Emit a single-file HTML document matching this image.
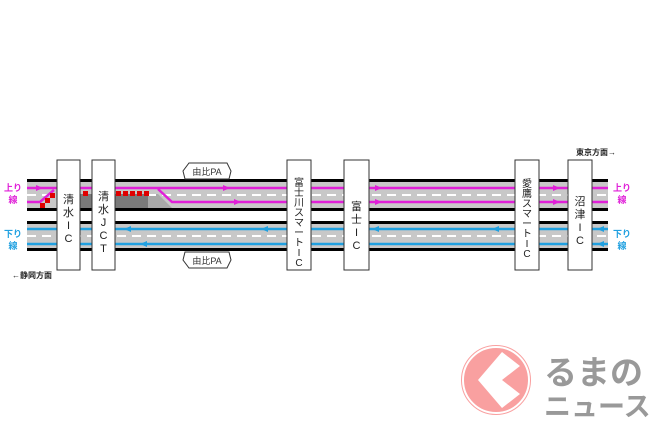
<!DOCTYPE html>
<html><head><meta charset="utf-8"><style>
html,body{margin:0;padding:0;background:#fff;width:650px;height:433px;overflow:hidden}
svg{display:block}
text{font-family:"Liberation Sans","Noto Sans CJK JP",sans-serif}
</style></head><body>
<svg width="650" height="433" viewBox="0 0 650 433">
<rect x="27" y="179" width="581" height="32" fill="#000"/>
<rect x="27" y="182" width="581" height="26" fill="#c8c8c8"/>
<rect x="57" y="194" width="91" height="14" fill="#7a7a7a"/>
<polygon points="148,194 158,194 172,208 148,208" fill="#a8a8a8"/>
<line x1="27" y1="195" x2="608" y2="195" stroke="#fff" stroke-width="2" stroke-dasharray="9,6"/>
<rect x="57" y="194" width="91" height="3" fill="#7a7a7a"/>
<rect x="27" y="221" width="581" height="30" fill="#000"/>
<rect x="27" y="224" width="581" height="24" fill="#c8c8c8"/>
<line x1="27" y1="236" x2="608" y2="236" stroke="#fff" stroke-width="2" stroke-dasharray="9,6"/>
<g stroke="#e020d8" stroke-width="2.5" fill="none">
<line x1="27" y1="188" x2="608" y2="188"/>
<polyline points="27,202 40,202 54,190"/>
<polyline points="158,189 172,202 608,202"/>
</g>
<g fill="#e020d8">
<polygon points="36,185 43,188 36,191"/>
<polygon points="223,185 230,188 223,191"/>
<polygon points="234,199 241,202 234,205"/>
<polygon points="375,185 382,188 375,191"/>
<polygon points="375,199 382,202 375,205"/>
<polygon points="553,185 560,188 553,191"/>
<polygon points="553,199 560,202 553,205"/>
</g>
<g stroke="#20a0e0" stroke-width="2.5">
<line x1="27" y1="229" x2="608" y2="229"/>
<line x1="27" y1="244" x2="608" y2="244"/>
</g>
<g fill="#20a0e0">
<polygon points="131,226 124,229 131,232"/>
<polygon points="147,241 140,244 147,247"/>
<polygon points="268,226 261,229 268,232"/>
<polygon points="379,226 372,229 379,232"/>
<polygon points="300,241 293,244 300,247"/>
<polygon points="499,226 492,229 499,232"/>
<polygon points="604,226 597,229 604,232"/>
<polygon points="604,241 597,244 604,247"/>
</g>
<g fill="#e00000">
<rect x="83" y="191" width="5" height="5"/><rect x="116" y="191" width="5" height="5"/>
<rect x="123" y="191" width="5" height="5"/><rect x="130" y="191" width="5" height="5"/>
<rect x="137" y="191" width="5" height="5"/><rect x="144" y="191" width="5" height="5"/>
<rect x="40" y="203" width="5" height="5"/><rect x="45" y="198" width="5" height="5"/><rect x="50" y="193" width="5" height="5"/>
</g>
<g fill="#fff" stroke="#333" stroke-width="1">
<polygon points="189,163 227,163 231,171 229,179 185,179 183,171"/>
<polygon points="185,252 229,252 231,260 227,268 189,268 183,260"/>
</g>
<g font-size="9" fill="#333" text-anchor="middle">
<text x="207" y="175">由比PA</text>
<text x="207" y="264">由比PA</text>
</g>
<g fill="#fff" stroke="#333" stroke-width="1">
<rect x="57" y="160" width="23" height="110"/>
<rect x="92" y="160" width="23" height="110"/>
<rect x="287" y="160" width="24" height="110"/>
<rect x="344" y="160" width="25" height="110"/>
<rect x="515" y="160" width="24" height="110"/>
<rect x="568" y="160" width="24" height="110"/>
</g>
<g font-size="11" fill="#222" text-anchor="middle">
<text x="68.5" y="203">清</text><text x="68.5" y="216">水</text><text x="68.5" y="229">I</text><text x="68.5" y="242">C</text>
<text x="103.5" y="200">清</text><text x="103.5" y="213">水</text><text x="103.5" y="226">J</text><text x="103.5" y="239">C</text><text x="103.5" y="252">T</text>
<text x="356.5" y="210">富</text><text x="356.5" y="223">士</text><text x="356.5" y="236">I</text><text x="356.5" y="249">C</text>
<text x="580" y="205">沼</text><text x="580" y="218">津</text><text x="580" y="231">I</text><text x="580" y="244">C</text>
</g>
<g font-size="10" fill="#222" text-anchor="middle">
<text x="299" y="186">富</text><text x="299" y="196">士</text><text x="299" y="206">川</text><text x="299" y="216">ス</text><text x="299" y="226">マ</text><text x="299" y="236">ー</text><text x="299" y="246">ト</text><text x="299" y="256">I</text><text x="299" y="266">C</text>
<text x="527" y="187">愛</text><text x="527" y="197">鷹</text><text x="527" y="207">ス</text><text x="527" y="217">マ</text><text x="527" y="227">ー</text><text x="527" y="237">ト</text><text x="527" y="247">I</text><text x="527" y="257">C</text>
</g>
<g font-size="9" font-weight="bold" text-anchor="middle">
<text x="13" y="191" fill="#e020d8">上り</text><text x="13" y="203" fill="#e020d8">線</text>
<text x="13" y="237" fill="#20a0e0">下り</text><text x="13" y="249" fill="#20a0e0">線</text>
<text x="622" y="191" fill="#e020d8">上り</text><text x="622" y="203" fill="#e020d8">線</text>
<text x="622" y="237" fill="#20a0e0">下り</text><text x="622" y="249" fill="#20a0e0">線</text>
</g>
<g font-size="8" font-weight="bold" fill="#222">
<text x="12" y="278">←静岡方面</text>
<text x="576" y="155">東京方面→</text>
</g>
<circle cx="496" cy="380" r="36" fill="#f9a0a0" stroke="#fff" stroke-width="2"/>
<circle cx="496" cy="380" r="33" fill="none" stroke="#fff" stroke-width="2"/>
<polygon points="502,352 520,366 502,380 520,394 502,408 478,380" fill="#fff"/>
<g fill="#999" font-weight="bold">
<text x="544" y="384" font-size="33">るまの</text>
<text x="544" y="416" font-size="27">ニュース</text>
</g>
</svg>
</body></html>
